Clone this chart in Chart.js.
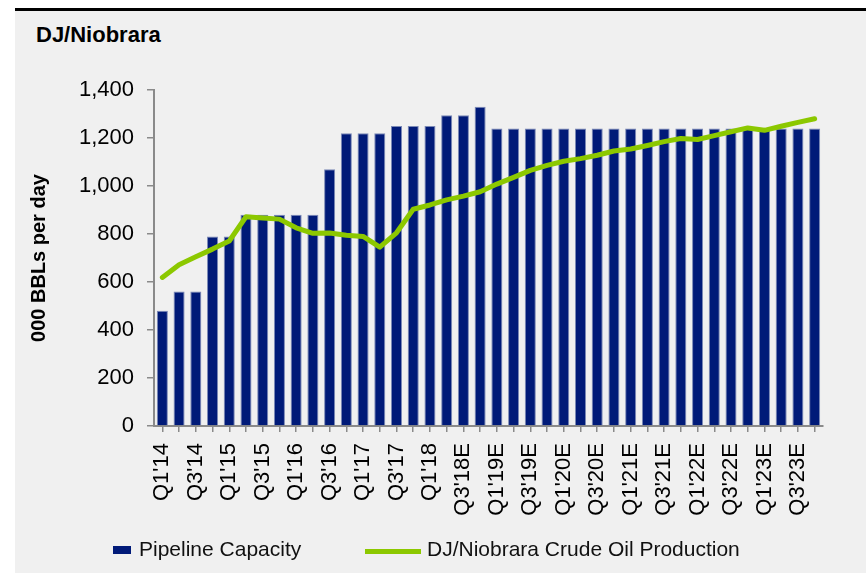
<!DOCTYPE html>
<html>
<head>
<meta charset="utf-8">
<script src="https://cdn.jsdelivr.net/npm/chart.js@4.4.1/dist/chart.umd.min.js"></script>
<style>
  html, body { margin: 0; padding: 0; background: #ffffff; width: 866px; height: 573px; overflow: hidden; }
  #panel { position: absolute; left: 15px; top: 8px; width: 851px; height: 565px; background: #f0f0f0; border-top: 3px solid #000; box-sizing: border-box; }
  #title { position: absolute; left: 36px; top: 22px; font-family: "Liberation Sans", Arial, sans-serif; font-weight: bold; font-size: 22px; color: #000; line-height: 26px; }
  #chart { position: absolute; left: 0; top: 0; }
  .leg { position: absolute; font-family: "Liberation Sans", Arial, sans-serif; font-size: 21px; color: #111; line-height: 24px; top: 537px; }
  .sw { position: absolute; }
</style>
</head>
<body>
<div id="panel"></div>
<div id="title">DJ/Niobrara</div>
<canvas id="chart" width="866" height="573"></canvas>
<div class="sw" style="left:113px;top:546px;width:18px;height:8px;background:#001a78;"></div>
<div class="leg" style="left:139px;">Pipeline Capacity</div>
<div class="sw" style="left:365px;top:549px;width:56px;height:5px;background:#8cc800;"></div>
<div class="leg" style="left:427px;">DJ/Niobrara Crude Oil Production</div>
<script>
const quarters = [
  "Q1'14","Q2'14","Q3'14","Q4'14",
  "Q1'15","Q2'15","Q3'15","Q4'15",
  "Q1'16","Q2'16","Q3'16","Q4'16",
  "Q1'17","Q2'17","Q3'17","Q4'17",
  "Q1'18","Q2'18","Q3'18E","Q4'18E",
  "Q1'19E","Q2'19E","Q3'19E","Q4'19E",
  "Q1'20E","Q2'20E","Q3'20E","Q4'20E",
  "Q1'21E","Q2'21E","Q3'21E","Q4'21E",
  "Q1'22E","Q2'22E","Q3'22E","Q4'22E",
  "Q1'23E","Q2'23E","Q3'23E","Q4'23E"
];
const pipelineCapacity = [
  480, 560, 560, 790, 790, 880, 880, 880, 880, 880,
  1070, 1220, 1220, 1220, 1250, 1250, 1250, 1295, 1295, 1330,
  1240, 1240, 1240, 1240, 1240, 1240, 1240, 1240, 1240, 1240,
  1240, 1240, 1240, 1240, 1240, 1240, 1240, 1240, 1240, 1240
];
const crudeProduction = [
  619, 672, 705, 737, 771, 872, 867, 862, 826, 803,
  804, 795, 790, 745, 805, 903, 921, 942, 958, 976,
  1008, 1036, 1065, 1086, 1103, 1114, 1128, 1146, 1154, 1169,
  1185, 1198, 1194, 1210, 1226, 1242, 1232, 1249, 1265, 1280
];
const yTicks = [0, 200, 400, 600, 800, 1000, 1200, 1400];
const seriesNames = ["Pipeline Capacity", "DJ/Niobrara Crude Oil Production"];
const yAxisTitle = "000 BBLs per day";

const FONT = "'Liberation Sans', Arial, sans-serif";

new Chart(document.getElementById('chart'), {
  type: 'bar',
  data: {
    labels: quarters,
    datasets: [
      {
        type: 'line',
        label: seriesNames[1],
        data: crudeProduction,
        borderColor: '#8cc800',
        backgroundColor: '#8cc800',
        borderWidth: 5,
        pointRadius: 0,
        tension: 0,
        borderCapStyle: 'round',
        borderJoinStyle: 'round',
        order: 0
      },
      {
        type: 'bar',
        label: seriesNames[0],
        data: pipelineCapacity,
        backgroundColor: '#001a78',
        borderColor: 'rgba(110,125,175,0.9)',
        borderWidth: 1,
        categoryPercentage: 1.0,
        barPercentage: 0.66,
        order: 1
      }
    ]
  },
  options: {
    responsive: false,
    animation: false,
    devicePixelRatio: 1,
    layout: { padding: { left: 27, right: 43, top: 90, bottom: 57 } },
    plugins: {
      legend: { display: false },
      title: { display: false },
      tooltip: { enabled: false }
    },
    scales: {
      x: {
        grid: { display: true, drawOnChartArea: false, drawTicks: true, tickLength: 6, color: '#8a8a8a', lineWidth: 1.5, offset: false },
        border: { display: true, color: '#8a8a8a', width: 2 },
        ticks: {
          autoSkip: false,
          maxRotation: 90,
          minRotation: 90,
          padding: 11,
          color: '#000',
          font: { family: FONT, size: 22 },
          callback: function (v, i) { return i % 2 === 0 ? this.getLabelForValue(v) : ''; }
        },
        afterFit: function (s) { s.height = 90; }
      },
      y: {
        min: 0,
        max: 1400,
        afterBuildTicks: function (s) { s.ticks = yTicks.map(v => ({ value: v })); },
        grid: { display: true, drawOnChartArea: false, drawTicks: true, tickLength: 7, color: '#8a8a8a', lineWidth: 1.5 },
        border: { display: true, color: '#8a8a8a', width: 2 },
        ticks: {
          padding: 13,
          color: '#000',
          font: { family: FONT, size: 22 },
          callback: function (v) { return v.toLocaleString('en-US'); }
        },
        title: {
          display: true,
          text: yAxisTitle,
          color: '#000',
          padding: 0,
          font: { family: FONT, size: 20, weight: 'bold' }
        },
        afterFit: function (s) { s.width = 154 - 27; }
      }
    }
  }
});
</script>
</body>
</html>
